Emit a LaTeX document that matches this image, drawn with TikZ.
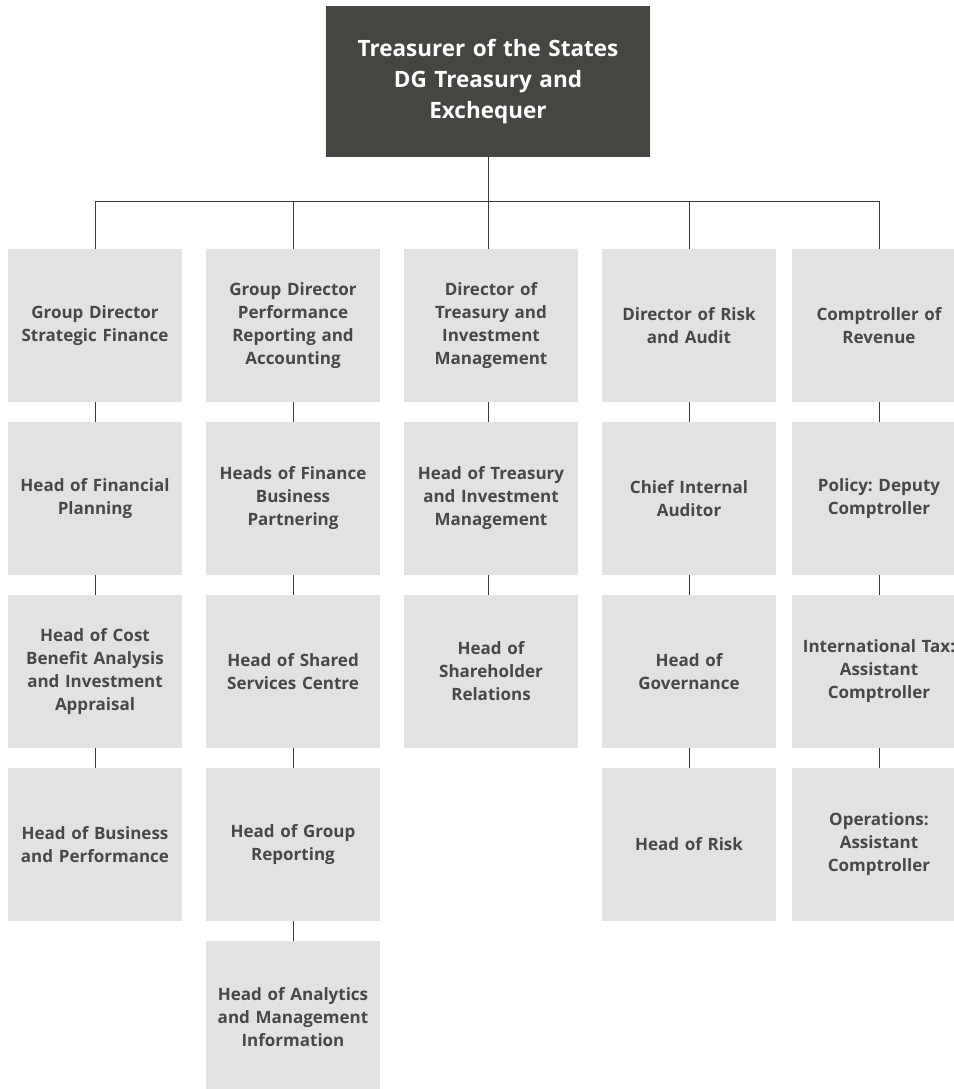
\documentclass[tikz,border=0pt]{standalone}
\usepackage{fontspec}
\setmainfont{Open Sans}
\frenchspacing
\definecolor{boxgray}{HTML}{E3E1E2}
\definecolor{topgray}{HTML}{474542}
\definecolor{txtgray}{HTML}{4A4747}
\definecolor{linegray}{HTML}{3A3A3A}
\begin{document}
\begin{tikzpicture}[x=1pt,y=-1pt,
  box/.style={fill=boxgray, minimum width=174pt, minimum height=153pt, text width=172pt,
    align=center, inner sep=0pt, text=txtgray, font=\fontsize{17}{23}\selectfont\bfseries},
  topbox/.style={fill=topgray, minimum width=324pt, minimum height=151pt, text width=310pt,
    align=center, inner sep=0pt, text=white, font=\fontsize{22.5}{31}\selectfont\bfseries},
  conn/.style={draw=linegray, line width=1pt}]
\useasboundingbox (0,0) rectangle (953,1089);
\node[topbox] (top) at (488,81.5) {Treasurer of the States\\DG Treasury and\\Exchequer};
% column 1
\node[box] (a1) at (95,325.5) {Group Director\\Strategic Finance};
\node[box] (a2) at (95,498.5) {Head of Financial\\Planning};
\node[box] (a3) at (95,671.5) {Head of Cost\\Benefit Analysis\\and Investment\\Appraisal};
\node[box] (a4) at (95,844.5) {Head of Business\\and Performance};
% column 2
\node[box] (b1) at (293,325.5) {Group Director\\Performance\\Reporting and\\Accounting};
\node[box] (b2) at (293,498.5) {Heads of Finance\\Business\\Partnering};
\node[box] (b3) at (293,671.5) {Head of Shared\\Services Centre};
\node[box] (b4) at (293,844.5) {Head of Group\\Reporting};
\node[box] (b5) at (293,1017.5) {Head of Analytics\\and Management\\Information};
% column 3
\node[box] (c1) at (491,325.5) {Director of\\Treasury and\\Investment\\Management};
\node[box] (c2) at (491,498.5) {Head of Treasury\\and Investment\\Management};
\node[box] (c3) at (491,671.5) {Head of\\Shareholder\\Relations};
% column 4
\node[box] (d1) at (689,325.5) {Director of Risk\\and Audit};
\node[box] (d2) at (689,498.5) {Chief Internal\\Auditor};
\node[box] (d3) at (689,671.5) {Head of\\Governance};
\node[box] (d4) at (689,844.5) {Head of Risk};
% column 5
\node[box] (e1) at (879,325.5) {Comptroller of\\Revenue};
\node[box] (e2) at (879,498.5) {Policy: Deputy\\Comptroller};
\node[box] (e3) at (879,671.5) {International Tax:\\Assistant\\Comptroller};
\node[box] (e4) at (879,844.5) {Operations:\\Assistant\\Comptroller};
% connectors
\coordinate (hl) at (95,201);
\coordinate (hr) at (879,201);
\draw[conn] (hl) -- (hr);
\draw[conn] (top.south) -- (c1.north -| top.south);
\draw[conn] (hl) -- (a1.north);
\draw[conn] (b1.north |- hl) -- (b1.north);
\draw[conn] (d1.north |- hl) -- (d1.north);
\draw[conn] (hr) -- (e1.north);
\foreach \c/\n in {a/3,b/4,d/3,e/3}{
  \foreach \i [evaluate=\i as \j using int(\i+1)] in {1,...,\n}{
    \draw[conn] (\c\i.south) -- (\c\j.north);
  }
}
\draw[conn] (c1.south -| top.south) -- (c2.north -| top.south);
\draw[conn] (c2.south -| top.south) -- (c3.north -| top.south);
\end{tikzpicture}
\end{document}
